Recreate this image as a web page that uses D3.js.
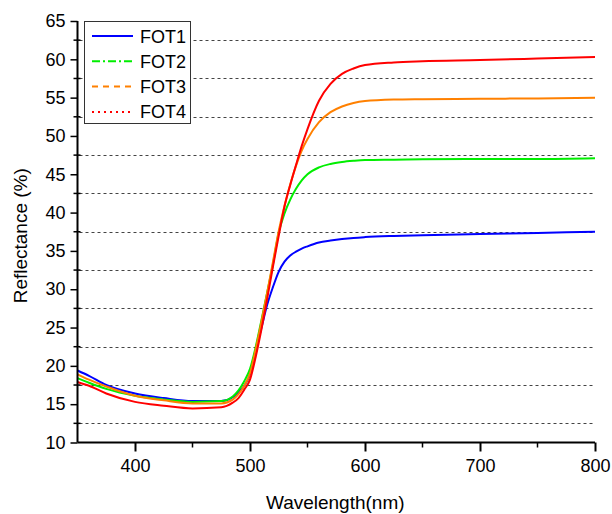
<!DOCTYPE html>
<html>
<head>
<meta charset="utf-8">
<script src="https://cdn.jsdelivr.net/npm/d3@7"></script>
<style>
  html, body { margin: 0; padding: 0; background: #fff; }
  svg { display: block; }
  text { font-family: Arial, "Liberation Sans", sans-serif; fill: #000; }
</style>
</head>
<body>
<svg id="chart" width="612" height="514"></svg>
<script>
// ---- data ----
const wavelengths = [350, 360, 375, 400, 425, 450, 475, 485, 490, 495, 500, 505, 510, 515, 520, 525, 530, 535, 540, 545, 550, 560, 570, 580, 590, 600, 625, 650, 700, 750, 800];
const fot1 = [19.4, 18.7, 17.5, 16.4, 15.8, 15.4, 15.4, 15.9, 16.6, 17.4, 18.9, 22.0, 25.0, 28.0, 30.3, 32.3, 33.6, 34.4, 34.9, 35.3, 35.6, 36.1, 36.35, 36.55, 36.7, 36.8, 36.95, 37.05, 37.2, 37.35, 37.5];
const fot2 = [18.4, 17.8, 17.0, 16.1, 15.6, 15.3, 15.4, 16.0, 16.8, 18.0, 19.6, 22.5, 26.0, 29.6, 33.3, 37.4, 39.9, 41.7, 43.1, 44.2, 45.0, 45.9, 46.35, 46.6, 46.75, 46.85, 46.9, 46.95, 47.0, 47.0, 47.1];
const fot3 = [18.9, 18.2, 17.3, 16.1, 15.5, 15.1, 15.1, 15.6, 16.3, 17.4, 19.0, 22.2, 25.8, 29.6, 33.6, 37.6, 40.9, 43.7, 46.1, 48.1, 49.6, 51.8, 53.1, 53.85, 54.3, 54.55, 54.75, 54.8, 54.85, 54.9, 55.0];
const fot4 = [17.9, 17.4, 16.4, 15.3, 14.8, 14.45, 14.6, 15.2, 15.8, 16.9, 18.2, 21.2, 24.8, 28.8, 33.0, 37.0, 40.8, 43.6, 46.2, 48.7, 50.9, 54.6, 56.8, 58.1, 58.8, 59.25, 59.6, 59.75, 59.9, 60.1, 60.3];
const seriesNames = ["FOT1", "FOT2", "FOT3", "FOT4"];
const seriesValues = [fot1, fot2, fot3, fot4];
const seriesColors = ["#0000ff", "#00ee00", "#ff8000", "#ff0000"];
const seriesDash = ["none", "8,3,2,3", "6,5", "2,4"];
const xTicks = [400, 500, 600, 700, 800];
const xMinorTicks = [450, 550, 650, 750];
const yTicks = [10, 15, 20, 25, 30, 35, 40, 45, 50, 55, 60, 65];
const yMinorTicks = [12.5, 17.5, 22.5, 27.5, 32.5, 37.5, 42.5, 47.5, 52.5, 57.5, 62.5];

// ---- layout ----
const svg = d3.select("#chart");
const pL = 77.5, pR = 595, pT = 21, pB = 442.5;
const x = d3.scaleLinear().domain([350, 800]).range([pL, pR]);
const y = d3.scaleLinear().domain([10, 65]).range([pB, pT]);

// grid lines (dashed) at minor positions
svg.append("g").selectAll("line").data(yMinorTicks).join("line")
  .attr("x1", pL + 2).attr("x2", pR)
  .attr("y1", d => Math.round(y(d)) + 0.5).attr("y2", d => Math.round(y(d)) + 0.5)
  .attr("stroke", "#444").attr("stroke-width", 1).attr("stroke-dasharray", "3,3");

// lines
const line = d3.line().x(d => x(d[0])).y(d => y(d[1])).curve(d3.curveMonotoneX);
seriesValues.forEach((vals, i) => {
  const pts = wavelengths.map((w, j) => [w, vals[j]]);
  svg.append("path").datum(pts)
    .attr("d", line)
    .attr("fill", "none")
    .attr("stroke", seriesColors[i])
    .attr("stroke-width", 2);
});

// axes
const yAxis = svg.append("g").attr("transform", `translate(${pL},0)`)
  .call(d3.axisLeft(y).tickValues(yTicks).tickSize(7).tickPadding(5).tickFormat(d3.format("d")));
yAxis.select(".domain").attr("stroke", "#000").attr("stroke-width", 2).attr("d", `M0,${pB}V${pT}`);
yAxis.selectAll(".tick line").attr("stroke", "#000").attr("stroke-width", 1.5);
yAxis.selectAll(".tick text").style("font-size", "18px").attr("font-family", "Arial, 'Liberation Sans', sans-serif").attr("fill", "#000");
svg.append("g").selectAll("line").data(yMinorTicks).join("line")
  .attr("x1", pL - 4).attr("x2", pL + 3)
  .attr("y1", d => y(d)).attr("y2", d => y(d))
  .attr("stroke", "#000").attr("stroke-width", 1.5);

const xAxis = svg.append("g").attr("transform", `translate(0,${pB})`)
  .call(d3.axisBottom(x).tickValues(xTicks).tickSize(9).tickPadding(8).tickFormat(d3.format("d")));
xAxis.select(".domain").attr("stroke", "#000").attr("stroke-width", 2).attr("d", `M${pL},0H${pR}`);
xAxis.selectAll(".tick line").attr("stroke", "#000").attr("stroke-width", 2);
xAxis.selectAll(".tick text").style("font-size", "18px").attr("font-family", "Arial, 'Liberation Sans', sans-serif").attr("fill", "#000");
svg.append("g").selectAll("line").data(xMinorTicks).join("line")
  .attr("x1", d => x(d)).attr("x2", d => x(d))
  .attr("y1", pB).attr("y2", pB + 5)
  .attr("stroke", "#000").attr("stroke-width", 1.5);

// axis titles
svg.append("text").attr("x", (pL + pR) / 2 - 1).attr("y", 509)
  .attr("text-anchor", "middle").style("font-size", "19px").text("Wavelength(nm)");
svg.append("text").attr("transform", `translate(27,${(pT + pB) / 2 + 4}) rotate(-90)`)
  .attr("text-anchor", "middle").style("font-size", "19px").text("Reflectance (%)");

// legend
const lg = svg.append("g");
lg.append("rect").attr("x", 84.5).attr("y", 21.5).attr("width", 106).attr("height", 102)
  .attr("fill", "#fff").attr("stroke", "#333").attr("stroke-width", 1);
seriesNames.forEach((name, i) => {
  const cy = 36 + i * 25.3;
  lg.append("line").attr("x1", 92).attr("x2", 133).attr("y1", cy).attr("y2", cy)
    .attr("stroke", seriesColors[i]).attr("stroke-width", 2)
    .attr("stroke-dasharray", seriesDash[i]);
  lg.append("text").attr("x", 140).attr("y", cy + 6.5).style("font-size", "18px").text(name);
});
</script>
</body>
</html>
